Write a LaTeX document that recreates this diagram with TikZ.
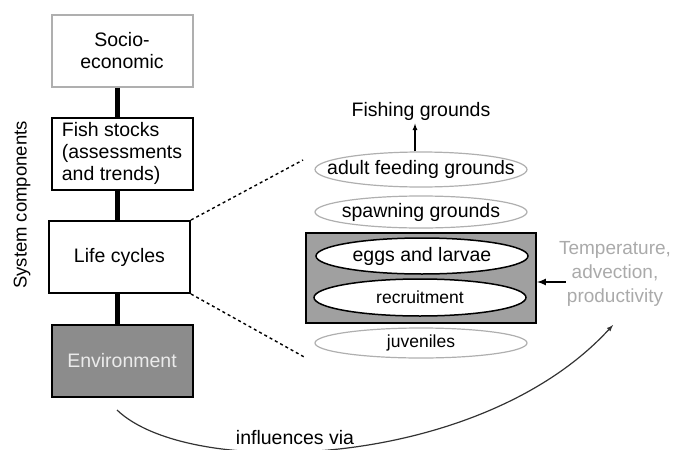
\documentclass[tikz,border=0pt]{standalone}
\usepackage{fontspec}
\setmainfont{Liberation Sans}
\usetikzlibrary{arrows,calc,shapes.geometric}
\definecolor{LightLine}{RGB}{175, 175, 175}
\definecolor{EnvFill}{RGB}{140, 140, 140}
\definecolor{StageFill}{RGB}{160, 160, 160}
\definecolor{EnvText}{RGB}{235, 235, 235}
\definecolor{DriverText}{RGB}{170, 170, 170}

\tikzset{
    compbox/.style = {draw, line width=2pt, minimum width=141pt, minimum height=72pt, inner sep=2pt},
    stage/.style = {ellipse, draw = LightLine, line width=1.2pt, minimum width=212pt, minimum height=32pt, inner ysep=0pt, inner xsep=-25pt},
    stagein/.style = {ellipse, draw, fill = white, line width=1.5pt, minimum width=212pt, minimum height=36pt, inner ysep=0pt, inner xsep=-25pt},
    spine/.style = {line width=5pt},
    small/.style = {font=\fontsize{17.5}{20}\selectfont},
}

\begin{document}
\begin{tikzpicture}[x=1pt, y=-1pt, font=\fontsize{19.5}{22}\selectfont]
    \useasboundingbox (0,0) rectangle (678,450);
    % System components
    \node[compbox, draw = LightLine] (socio) at (122,50.5) [align=center] {Socio-\\economic};
    \node[compbox, inner sep=0pt] (stocks) at (122,153.5) [align=left] {Fish stocks\\(assessments\\and trends)};
    \node[compbox] (life) at (119.5,257) {Life cycles};
    \node[compbox, fill = EnvFill, text = EnvText] (env) at (122,360.5) {Environment};
    \node[rotate=90, font=\fontsize{18.5}{22}\selectfont] (syscomp) at (22,205) {System components};
    \coordinate (axis) at (117,0);
    \draw[spine]
    (socio.south -| axis) to (stocks.north -| axis)
    (stocks.south -| axis) to (life.north -| axis)
    (life.south -| axis) to (env.north -| axis)
    ;
    % Life stages
    \node[draw, line width=2pt, fill = StageFill, minimum width=230pt, minimum height=90pt] (cohort) at (421,278) {};
    \node[stage] (adult) at (421,169.5) [minimum height=35pt] {adult feeding grounds};
    \node[stage] (spawn) at (421,212) {spawning grounds};
    \node[stagein] (eggs) at (422,256) {eggs and larvae};
    \node[stagein, small] (recruit) at (420,297.5) [minimum height=37pt] {recruitment};
    \node[stage, small] (juv) at (421,343) [minimum height=30pt] {juveniles};
    \node (fishing) at (421,111) {Fishing grounds};
    \draw[-latex, line width=1.2pt] ($(adult.north)+(-6,0)$) to ($(fishing.south)+(-6,0)$);
    % zoom lines
    \coordinate (zoomtop) at (303,160);
    \coordinate (zoombot) at (306,358);
    \draw[dashed, line width=1.4pt]
    (life.north east) to (zoomtop)
    (life.south east) to (zoombot)
    ;
    % Drivers
    \node[text = DriverText, align=center, font=\fontsize{19}{24}\selectfont] (drivers) at (615,274) {Temperature,\\advection,\\productivity};
    \draw[-latex, line width=2pt] (drivers.west |- cohort.east) ++(10,4) to ($(cohort.east)+(0,4)$);
    % Influence
    \coordinate (bendstart) at (117,410);
    \coordinate (bendend) at (613,325);
    \draw[-latex, line width=1.2pt, draw = black!80] (bendstart) .. controls (190,480) and (480,470) .. (bendend);
    \node (via) at (295,438) {influences via};
\end{tikzpicture}
\end{document}
